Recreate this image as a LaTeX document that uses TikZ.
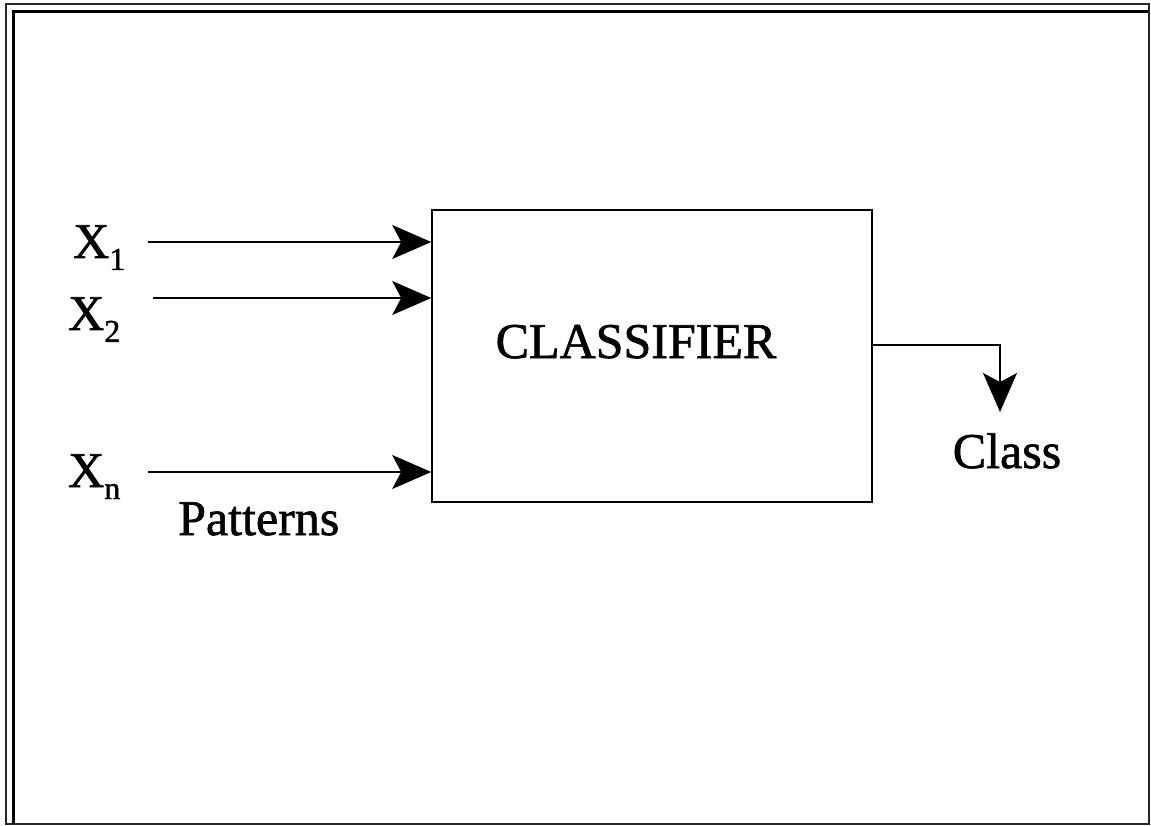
\documentclass[tikz,border=0pt]{standalone}
\usepackage{fontspec}
\setmainfont{Liberation Serif}[FakeBold=1.3]
\usetikzlibrary{arrows.meta}

% subscript index set in a smaller size and lowered below the baseline
\newcommand{\subidx}[1]{\raisebox{-12pt}{\fontsize{32}{34}\selectfont #1}}

\tikzset{
  bigtext/.style={font=\fontsize{50}{60}\selectfont, inner sep=0pt},
  inlabel/.style={bigtext, anchor=base west},
  feed/.style={line width=1.4pt, -{Stealth[length=39pt, width=34pt, inset=9pt]}},
  blockbox/.style={draw, line width=1.6pt, minimum width=440pt, minimum height=292pt, inner sep=0pt},
}

\begin{document}
\begin{tikzpicture}[x=1pt, y=-1pt]
  \useasboundingbox (0,0) rectangle (1151,826);

  % double frame: thin outer border, heavier inner lines along top and left
  \draw[line width=1.8pt, black!85] (6,4) rectangle (1149,824);
  \draw[line width=3.5pt] (1148,11.5) -- (13.5,11.5) -- (13.5,824);

  % classifier block
  \node[blockbox] (box) at (652,356) {};
  \node[bigtext, anchor=base] (name) at (636,358) {CLASSIFIER};

  % input pattern components
  \node[inlabel] (x1) at (73,258) {X\subidx{1}};
  \node[inlabel] (x2) at (68,330) {X\subidx{2}};
  \node[inlabel] (xn) at (68,487) {X\subidx{n}};
  \node[inlabel] (pat) at (178,535) {Patterns};

  \coordinate (s1) at (148,242);
  \coordinate (s2) at (153,298);
  \coordinate (sn) at (148,472);

  \draw[feed] (s1) -- (s1 -| box.west);
  \draw[feed] (s2) -- (s2 -| box.west);
  \draw[feed] (sn) -- (sn -| box.west);

  % output class
  \node[bigtext, anchor=base] (cls) at (1007,468) {Class};
  \coordinate (tip) at (1000,412);
  \draw[feed, line width=1.2pt] ([yshift=11pt]box.east) -| (tip);
\end{tikzpicture}
\end{document}
